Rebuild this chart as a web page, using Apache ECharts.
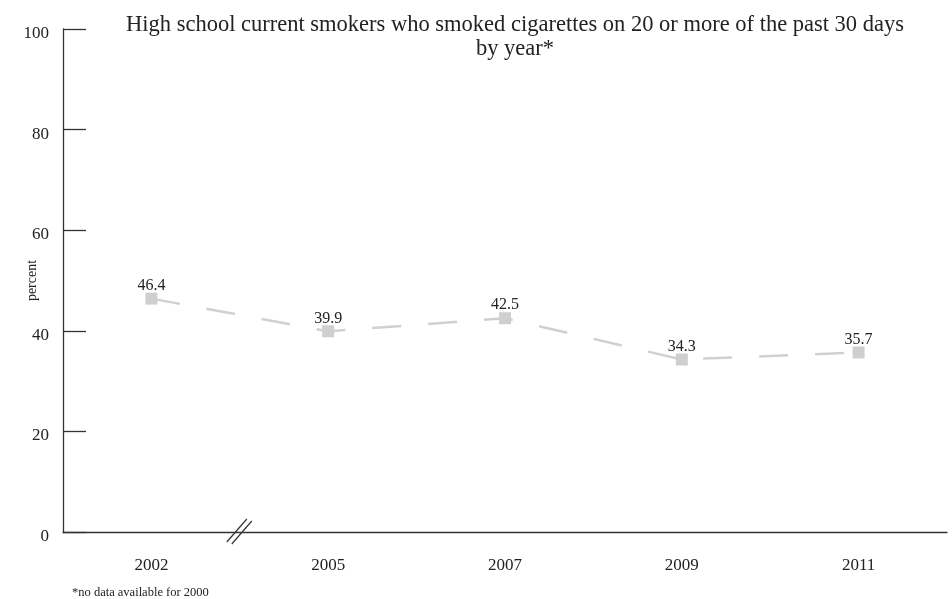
<!DOCTYPE html>
<html><head><meta charset="utf-8">
<script src="https://cdn.jsdelivr.net/npm/echarts@6/dist/echarts.min.js"></script>
<style>html,body{margin:0;padding:0;background:#fff}#c{width:952px;height:599px}</style>
</head><body><div id="c"></div>
<script>
const years = ['2002', '2005', '2007', '2009', '2011'];
const percentValues = [46.4, 39.9, 42.5, 34.3, 35.7];
const yTicks = [0, 20, 40, 60, 80, 100];
const titleText = 'High school current smokers who smoked cigarettes on 20 or more of the past 30 days\nby year*';
const footnote = '*no data available for 2000';

const font = '"Liberation Serif", "DejaVu Serif", serif';
const chart = echarts.init(document.getElementById('c'), null, {renderer: 'canvas'});
chart.setOption({
  animation: false,
  backgroundColor: '#fff',
  textStyle: {fontFamily: font},
  title: {
    text: titleText, left: 510, top: 8, textAlign: 'center',
    textStyle: {fontFamily: font, fontSize: 22.5, fontWeight: 'normal', color: '#222', lineHeight: 24}
  },
  grid: {left: 63, right: 5, top: 29, bottom: 67, containLabel: false, outerBoundsMode: 'none'},
  xAxis: {
    type: 'category', data: years, boundaryGap: true,
    axisLine: {lineStyle: {color: '#333', width: 1.3}},
    axisTick: {inside: true, length: 13, alignWithLabel: true, lineStyle: {color: '#333', width: 1.3}},
    axisLabel: {margin: 25, fontSize: 17, color: '#222', fontFamily: font}
  },
  yAxis: {
    type: 'value', min: yTicks[0], max: yTicks[yTicks.length - 1], interval: 20,
    name: 'percent', nameLocation: 'middle', nameGap: 24, nameRotate: 90, nameMoveOverlap: false,
    nameTextStyle: {fontSize: 14, color: '#222', fontFamily: font},
    axisLine: {show: true, lineStyle: {color: '#333', width: 1.3}},
    axisTick: {show: true, inside: true, length: 23, lineStyle: {color: '#333', width: 1.3}},
    axisLabel: {
      margin: 14, fontSize: 17, color: '#222', fontFamily: font,
      formatter: function (v) { return '{a|' + v + '}'; },
      rich: {a: {fontSize: 17, color: '#222', fontFamily: font, padding: [9, 0, 0, 0]}}
    },
    splitLine: {show: false}
  },
  series: [{
    type: 'line', data: percentValues,
    symbol: 'rect', symbolSize: 12,
    itemStyle: {color: '#cfcfcf'},
    lineStyle: {color: '#d0d0d0', width: 2.5, type: [29, 27]},
    label: {show: true, position: 'top', distance: -1, fontSize: 16, color: '#222', fontFamily: font}
  }]
});
// axis break mark between first two categories
const p0 = chart.convertToPixel({gridIndex: 0}, [0, 0]);
const p1 = chart.convertToPixel({gridIndex: 0}, [1, 0]);
const bx = p0[0] + (p1[0] - p0[0]) * 0.5;
const by = p0[1];
chart.setOption({graphic: [{
  type: 'text', left: 72, top: 586,
  style: {text: footnote, fontSize: 12.5, fill: '#222', fontFamily: font}
}, {
  type: 'group', children: [
    {type: 'line', shape: {x1: bx - 13, y1: by + 10, x2: bx + 7, y2: by - 13}, style: {stroke: '#333', lineWidth: 1.2}},
    {type: 'line', shape: {x1: bx - 8, y1: by + 12, x2: bx + 12, y2: by - 11}, style: {stroke: '#333', lineWidth: 1.2}}
  ]
}]});
</script></body></html>
